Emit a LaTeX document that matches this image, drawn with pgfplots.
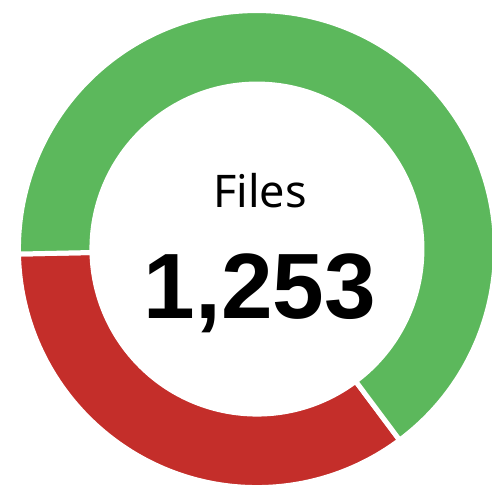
\documentclass[border=0pt]{standalone}
\usepackage{fontspec}
\setmainfont{Noto Sans}
\newfontfamily\numfont{Liberation Sans}
\usepackage{pgfplots}
\usepackage{pgfplotstable}
\pgfplotsset{compat=1.18}
\definecolor{okgreen}{HTML}{5CB85C}
\definecolor{badred}{HTML}{C42E2A}
\pgfplotstableread{
label value
Failed 437
Passed 816
}\filesdata
\begin{document}
\begin{tikzpicture}
\pgfplotstablegetelem{0}{value}\of\filesdata \let\vred\pgfplotsretval
\pgfplotstablegetelem{1}{value}\of\filesdata \let\vgreen\pgfplotsretval
\pgfmathsetmacro{\total}{\vred+\vgreen}
\pgfmathsetmacro{\frac}{\vred/\total}
\pgfmathsetmacro{\aA}{181.2}
\pgfmathsetmacro{\aB}{\aA+360*\frac}
\pgfmathsetmacro{\aC}{\aA+360}
\begin{axis}[x=0.025cm,y=0.025cm,xmin=0,xmax=492,ymin=0,ymax=497,
  hide axis, scale only axis, clip=true]
\coordinate (c) at (axis cs:257,248);
\draw[black!18, line width=0.4pt] (c) circle[radius=5.97cm];
\draw[black!18, line width=0.4pt] (c) circle[radius=4.12cm];
\fill[badred, draw=white, line width=0.125cm, line join=miter]
  ([shift={(\aA:5.9625cm)}]c) arc[start angle=\aA, end angle=\aB, radius=5.9625cm]
  -- ([shift={(\aB:4.125cm)}]c) arc[start angle=\aB, end angle=\aA, radius=4.125cm] -- cycle;
\fill[okgreen, draw=white, line width=0.125cm, line join=miter]
  ([shift={(\aB:5.9625cm)}]c) arc[start angle=\aB, end angle=\aC, radius=5.9625cm]
  -- ([shift={(\aC:4.125cm)}]c) arc[start angle=\aC, end angle=\aB, radius=4.125cm] -- cycle;
\node[anchor=base, font=\fontsize{32}{36}\selectfont, inner sep=0pt] at (axis cs:260,290) {Files};
\node[anchor=base, font=\numfont\bfseries\fontsize{66}{70}\selectfont, inner sep=0pt] at (axis cs:260,179) {1,253};
\end{axis}
\pgfresetboundingbox
\path[use as bounding box] (0,0) rectangle (12.3cm,12.425cm);
\end{tikzpicture}
\end{document}
